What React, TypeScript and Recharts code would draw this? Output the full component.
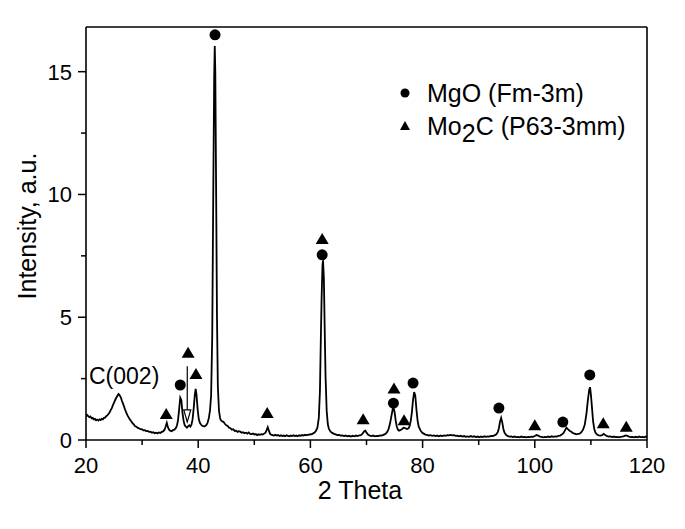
import React from 'react';
import {
  ComposedChart, Line, Scatter, XAxis, YAxis, ReferenceLine, ReferenceDot, Legend,
} from 'recharts';

// Measured XRD pattern: [2θ, intensity]
const pattern: [number, number][] = [
  [20.0, 0.95], [20.2, 1.02], [20.4, 0.97], [20.6, 0.93], [20.8, 0.96], [21.0, 0.88], [21.2, 0.90], [21.4, 0.84],
  [21.6, 0.86], [21.8, 0.80], [22.0, 0.83], [22.2, 0.79], [22.4, 0.84], [22.6, 0.81], [22.8, 0.86], [23.0, 0.84],
  [23.2, 0.90], [23.4, 0.91], [23.6, 0.97], [23.8, 1.00], [24.0, 1.06], [24.2, 1.12], [24.4, 1.22], [24.6, 1.30],
  [24.8, 1.42], [25.0, 1.52], [25.2, 1.63], [25.4, 1.72], [25.6, 1.80], [25.8, 1.87], [26.0, 1.82], [26.2, 1.74],
  [26.4, 1.60], [26.6, 1.48], [26.8, 1.35], [27.0, 1.22], [27.2, 1.10], [27.4, 1.00], [27.6, 0.92], [27.8, 0.84],
  [28.0, 0.78], [28.25, 0.70], [28.5, 0.64], [28.75, 0.56], [29.0, 0.54], [29.25, 0.49], [29.5, 0.47], [29.75, 0.44],
  [30.0, 0.43], [30.25, 0.39], [30.5, 0.40], [30.75, 0.36], [31.0, 0.37], [31.25, 0.33], [31.5, 0.34], [31.75, 0.30],
  [32.0, 0.32], [32.25, 0.28], [32.5, 0.30], [32.75, 0.27], [33.0, 0.31], [33.25, 0.29], [33.5, 0.33], [33.75, 0.35],
  [34.0, 0.42], [34.2, 0.55], [34.4, 0.70], [34.6, 0.52], [34.8, 0.42], [35.0, 0.38], [35.25, 0.36], [35.5, 0.40],
  [35.75, 0.42], [36.0, 0.48], [36.2, 0.58], [36.4, 0.80], [36.6, 1.25], [36.8, 1.72], [37.0, 1.62], [37.2, 1.10],
  [37.4, 0.78], [37.6, 0.60], [37.8, 0.54], [38.0, 0.50], [38.2, 0.56], [38.4, 0.60], [38.6, 0.54], [38.8, 0.62],
  [39.0, 0.85], [39.2, 1.30], [39.4, 1.85], [39.55, 2.08], [39.7, 1.85], [39.9, 1.25], [40.1, 0.85], [40.3, 0.70],
  [40.5, 0.63], [40.7, 0.58], [40.9, 0.57], [41.1, 0.55], [41.3, 0.58], [41.5, 0.62], [41.7, 0.72], [41.9, 0.90],
  [42.1, 1.20], [42.3, 1.80], [42.5, 4.2], [42.7, 10.5], [42.85, 14.8], [42.95, 16.05], [43.05, 15.0], [43.2, 10.0],
  [43.35, 5.0], [43.5, 2.2], [43.7, 1.20], [43.9, 0.90],
  [44.0, 0.82], [44.25, 0.76], [44.5, 0.74], [44.75, 0.66], [45.0, 0.60], [45.25, 0.57], [45.5, 0.50], [45.75, 0.48],
  [46.0, 0.42], [46.25, 0.44], [46.5, 0.37], [46.75, 0.38], [47.0, 0.33], [47.25, 0.36], [47.5, 0.34], [47.75, 0.30],
  [48.0, 0.32], [48.25, 0.28], [48.5, 0.30], [48.75, 0.26], [49.0, 0.31], [49.25, 0.25], [49.5, 0.24], [49.75, 0.26],
  [50.0, 0.22], [50.25, 0.24], [50.5, 0.20], [50.75, 0.23], [51.0, 0.21], [51.25, 0.24], [51.5, 0.22], [51.75, 0.26],
  [52.0, 0.30], [52.2, 0.40], [52.4, 0.52], [52.6, 0.38], [52.8, 0.26], [53.0, 0.22], [53.25, 0.20], [53.5, 0.18],
  [53.75, 0.21], [54.0, 0.18], [54.25, 0.20], [54.5, 0.16], [54.75, 0.19], [55.0, 0.16], [55.25, 0.18], [55.5, 0.15],
  [55.75, 0.19], [56.0, 0.17], [56.25, 0.15], [56.5, 0.18], [56.75, 0.16], [57.0, 0.19], [57.25, 0.16], [57.5, 0.18],
  [57.75, 0.15], [58.0, 0.19], [58.25, 0.17], [58.5, 0.20], [58.75, 0.18], [59.0, 0.21], [59.25, 0.19], [59.5, 0.22],
  [59.75, 0.21], [60.0, 0.24], [60.25, 0.23], [60.5, 0.27], [60.75, 0.30], [61.0, 0.38], [61.25, 0.50], [61.5, 0.90],
  [61.7, 2.0], [61.85, 4.0], [62.0, 5.8], [62.15, 7.1], [62.25, 7.32], [62.4, 6.6], [62.55, 4.5], [62.7, 2.6],
  [62.9, 1.2], [63.1, 0.65], [63.3, 0.45], [63.6, 0.34], [63.9, 0.29], [64.2, 0.25], [64.5, 0.23], [64.8, 0.20],
  [65.1, 0.21], [65.4, 0.18], [65.7, 0.19], [66.0, 0.16], [66.3, 0.18], [66.6, 0.15], [66.9, 0.17], [67.2, 0.14],
  [67.5, 0.17], [67.8, 0.15], [68.1, 0.18], [68.4, 0.16], [68.7, 0.19], [69.0, 0.20], [69.3, 0.26], [69.6, 0.36],
  [69.8, 0.38], [70.0, 0.30], [70.3, 0.21], [70.6, 0.18], [70.9, 0.16], [71.2, 0.18], [71.5, 0.15], [71.8, 0.17],
  [72.1, 0.16], [72.4, 0.19], [72.7, 0.18], [73.0, 0.21], [73.3, 0.24], [73.6, 0.30], [73.9, 0.42], [74.2, 0.68],
  [74.5, 1.05], [74.75, 1.35], [75.0, 1.15], [75.2, 0.80], [75.4, 0.55], [75.6, 0.42], [75.8, 0.38], [76.0, 0.40],
  [76.3, 0.44], [76.6, 0.50], [76.9, 0.48], [77.2, 0.45], [77.5, 0.48], [77.7, 0.58], [77.9, 0.80], [78.1, 1.15],
  [78.3, 1.65], [78.5, 1.95], [78.7, 1.80], [78.9, 1.25], [79.1, 0.80], [79.3, 0.55], [79.6, 0.40], [79.9, 0.30],
  [80.2, 0.26], [80.5, 0.22], [80.8, 0.21], [81.1, 0.18], [81.4, 0.20], [81.7, 0.17], [82.0, 0.19], [82.3, 0.16],
  [82.6, 0.18], [82.9, 0.15], [83.2, 0.18], [83.5, 0.16], [83.8, 0.19], [84.1, 0.17], [84.4, 0.20], [84.7, 0.19],
  [85.0, 0.21], [85.3, 0.19], [85.6, 0.20], [85.9, 0.17], [86.2, 0.18], [86.5, 0.15], [86.8, 0.17], [87.1, 0.14],
  [87.4, 0.16], [87.7, 0.13], [88.0, 0.15], [88.3, 0.13], [88.6, 0.16], [88.9, 0.13], [89.2, 0.15], [89.5, 0.12],
  [89.8, 0.14], [90.1, 0.11], [90.4, 0.14], [90.7, 0.12], [91.0, 0.15], [91.3, 0.13], [91.6, 0.15], [91.9, 0.14],
  [92.2, 0.17], [92.5, 0.16], [92.8, 0.19], [93.1, 0.22], [93.4, 0.32], [93.6, 0.48], [93.8, 0.75], [94.0, 0.90],
  [94.2, 0.72], [94.4, 0.45], [94.6, 0.30], [94.9, 0.20], [95.2, 0.16], [95.5, 0.14], [95.8, 0.15], [96.1, 0.12],
  [96.4, 0.14], [96.7, 0.12], [97.0, 0.13], [97.3, 0.11], [97.6, 0.14], [97.9, 0.12], [98.2, 0.13], [98.5, 0.11],
  [98.8, 0.13], [99.1, 0.12], [99.4, 0.14], [99.7, 0.13], [100.0, 0.16], [100.3, 0.20], [100.6, 0.18], [100.9, 0.14],
  [101.2, 0.13], [101.5, 0.11], [101.8, 0.13], [102.1, 0.12], [102.4, 0.14], [102.7, 0.12], [103.0, 0.15], [103.3, 0.13],
  [103.6, 0.15], [103.9, 0.14], [104.2, 0.17], [104.5, 0.18], [104.8, 0.22], [105.1, 0.28], [105.4, 0.40], [105.65, 0.50],
  [105.9, 0.44], [106.2, 0.38], [106.5, 0.34], [106.8, 0.28], [107.1, 0.26], [107.4, 0.23], [107.7, 0.25], [108.0, 0.26],
  [108.3, 0.32], [108.6, 0.42], [108.9, 0.62], [109.2, 1.05], [109.45, 1.60], [109.7, 2.05], [109.85, 2.15], [110.0, 1.85],
  [110.2, 1.30], [110.4, 0.75], [110.6, 0.45], [110.8, 0.30], [111.1, 0.22], [111.4, 0.19], [111.7, 0.18], [112.0, 0.20],
  [112.3, 0.25], [112.6, 0.19], [112.9, 0.16], [113.2, 0.14], [113.5, 0.15], [113.8, 0.12], [114.1, 0.14], [114.4, 0.12],
  [114.7, 0.13], [115.0, 0.11], [115.3, 0.13], [115.6, 0.14], [115.9, 0.16], [116.2, 0.19], [116.5, 0.17], [116.8, 0.14],
  [117.1, 0.12], [117.4, 0.13], [117.7, 0.11], [118.0, 0.13], [118.3, 0.11], [118.6, 0.14], [118.9, 0.12], [119.2, 0.13],
  [119.5, 0.11], [119.8, 0.14], [120.0, 0.13],
];

// Phase markers
const mgoTheta = [36.8, 43.0, 62.1, 74.8, 78.3, 93.6, 105.0, 109.8];
const mgoY = [2.24, 16.5, 7.54, 1.5, 2.32, 1.3, 0.73, 2.65];
const mo2cTheta = [34.3, 38.2, 39.6, 52.3, 62.1, 69.4, 74.9, 76.7, 100.0, 112.2, 116.3];
const mo2cY = [1.06, 3.55, 2.69, 1.1, 8.19, 0.85, 2.1, 0.8, 0.6, 0.68, 0.54];

// Annotations
const arrowTheta = [38.05, 38.05];
const arrowY = [3.0, 0.74];
const carbonLabel = { theta: 26.8, intensity: 2.3, text: 'C(002)' };

const xTicks = [20, 30, 40, 50, 60, 70, 80, 90, 100, 110, 120];
const yTicks = [0, 2.5, 5, 7.5, 10, 12.5, 15];
const X_MIN = 20;
const X_MAX = 120;
const Y_MAX = 16.82;

const spectrum = pattern.map(([t, v]) => ({ theta: t, intensity: v }));
const mgo = mgoTheta.map((t, i) => ({ theta: t, intensity: mgoY[i] }));
const mo2c = mo2cTheta.map((t, i) => ({ theta: t, intensity: mo2cY[i] }));

const FONT = '"Liberation Sans", Arial, sans-serif';

const XTick = (props: any) => {
  const { x, y, payload } = props;
  const v = payload.value;
  const major = v % 20 === 0;
  return (
    <g>
      <line x1={x} y1={y} x2={x} y2={y + (major ? 8 : 5)} stroke="#000" strokeWidth={1.5} />
      {major && (
        <text x={x} y={y + 33} textAnchor="middle" fontSize={22} fontFamily={FONT} fill="#000">
          {v}
        </text>
      )}
    </g>
  );
};

const YTick = (props: any) => {
  const { x, y, payload } = props;
  const v = payload.value;
  const major = v % 5 === 0;
  return (
    <g>
      <line x1={x} y1={y} x2={x - (major ? 8 : 5)} y2={y} stroke="#000" strokeWidth={1.5} />
      {major && (
        <text x={x - 14} y={y} dy="0.36em" textAnchor="end" fontSize={22} fontFamily={FONT} fill="#000">
          {v}
        </text>
      )}
    </g>
  );
};

const Circle = (props: any) => <circle cx={props.cx} cy={props.cy} r={5.5} fill="#000" />;
const Tri = (props: any) => {
  const { cx, cy } = props;
  return <path d={`M${cx},${cy - 6} L${cx + 6.5},${cy + 5} L${cx - 6.5},${cy + 5} Z`} fill="#000" />;
};
const ArrowHead = (props: any) => {
  const { cx, cy } = props;
  return <path d={`M${cx - 3.5},${cy - 12} L${cx},${cy} L${cx + 3.5},${cy - 12} Z`} fill="#fff" stroke="#000" strokeWidth={1.2} />;
};
const TextShape = (props: any) => (
  <text x={props.cx} y={props.cy} textAnchor="middle" fontSize={23} fontFamily={FONT} fill="#000">
    {props.payload.text}
  </text>
);

const LegendBox = () => (
  <div style={{ fontFamily: FONT, fontSize: 25, color: '#000', lineHeight: '33px' }}>
    <div style={{ display: 'flex', alignItems: 'center', whiteSpace: 'nowrap', height: 33 }}>
      <svg width={31} height={33}><circle cx={9} cy={16} r={4.5} fill="#000" /></svg>
      <span>MgO (Fm-3m)</span>
    </div>
    <div style={{ display: 'flex', alignItems: 'center', whiteSpace: 'nowrap', height: 33 }}>
      <svg width={31} height={33}><path d="M9,11 L14,20 L4,20 Z" fill="#000" /></svg>
      <span>
        Mo<span style={{ position: 'relative', top: 7 }}>2</span>C (P63-3mm)
      </span>
    </div>
  </div>
);

export default function App() {
  return (
    <div style={{ position: 'absolute', left: 0, top: 0, width: 685, height: 529, background: '#fff' }}>
      <ComposedChart
        width={685}
        height={529}
        data={spectrum}
        margin={{ top: 27, right: 38, bottom: 0, left: 0 }}
      >
        <XAxis
          type="number"
          dataKey="theta"
          domain={[X_MIN, X_MAX]}
          ticks={xTicks}
          interval={0}
          height={89}
          tickSize={0}
          tickMargin={0}
          tickLine={false}
          tick={<XTick />}
          axisLine={{ stroke: '#000', strokeWidth: 1.6 }}
          allowDataOverflow
          label={{
            value: '2 Theta',
            content: () => (
              <text x={360} y={499} textAnchor="middle" fontSize={25} fontFamily={FONT} fill="#000">
                2 Theta
              </text>
            ),
          }}
        />
        <YAxis
          type="number"
          domain={[0, Y_MAX]}
          ticks={yTicks}
          interval={0}
          width={86}
          tickSize={0}
          tickMargin={0}
          tickLine={false}
          tick={<YTick />}
          axisLine={{ stroke: '#000', strokeWidth: 1.6 }}
          allowDataOverflow
          label={{
            value: 'Intensity, a.u.',
            content: () => (
              <text
                x={36}
                y={226}
                transform="rotate(-90 36 226)"
                textAnchor="middle"
                fontSize={25}
                fontFamily={FONT}
                fill="#000"
              >
                Intensity, a.u.
              </text>
            ),
          }}
        />
        <ReferenceLine y={Y_MAX} stroke="#000" strokeWidth={1.6} />
        <ReferenceLine x={X_MAX} stroke="#000" strokeWidth={1.6} />
        <Line
          type="linear"
          dataKey="intensity"
          stroke="#000"
          strokeWidth={1.8}
          dot={false}
          isAnimationActive={false}
        />
        <Scatter data={mgo} dataKey="intensity" shape={<Circle />} isAnimationActive={false} />
        <Scatter data={mo2c} dataKey="intensity" shape={<Tri />} isAnimationActive={false} />
        <ReferenceLine
          segment={[
            { x: arrowTheta[0], y: arrowY[0] },
            { x: arrowTheta[1], y: arrowY[1] },
          ]}
          stroke="#000"
          strokeWidth={1.2}
        />
        <ReferenceDot x={arrowTheta[1]} y={arrowY[1]} shape={<ArrowHead />} />
        <Scatter data={[carbonLabel]} dataKey="intensity" shape={<TextShape />} isAnimationActive={false} />
        <Legend
          layout="horizontal"
          verticalAlign="middle"
          content={<LegendBox />}
          wrapperStyle={{ position: 'absolute', left: 396, top: 77, width: 270, height: 70 }}
        />
      </ComposedChart>
    </div>
  );
}
